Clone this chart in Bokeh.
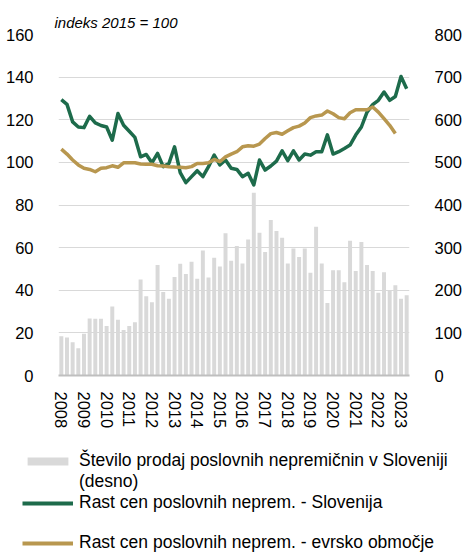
import numpy as np
from bokeh.plotting import figure
from bokeh.models import Range1d, LinearAxis, FixedTicker, Legend, LegendItem
from bokeh.embed import file_html
from bokeh.resources import INLINE

# ---------------- data ----------------
years = [str(y) for y in range(2008, 2024)]
quarters = [f"{y} Q{q}" for y in range(2008, 2024) for q in range(1, 5)][:62]

# number of commercial real-estate sales in Slovenia (right axis)
sales = [92, 89, 78, 64, 98, 134, 133, 133, 116, 162, 131, 107, 116, 125, 225, 186,
         172, 259, 196, 180, 231, 262, 238, 267, 227, 293, 230, 276, 256, 334, 269, 304,
         263, 319, 429, 335, 290, 365, 339, 323, 263, 298, 278, 298, 241, 349, 263, 170,
         247, 247, 219, 316, 245, 313, 259, 245, 194, 242, 200, 212, 180, 188]

# commercial property price index, Slovenia (2015 = 100)
price_si = [129.4, 127.2, 119.0, 116.6, 116.3, 121.6, 118.5, 117.3, 116.6, 110.4, 122.9, 117.4,
            114.6, 111.7, 102.6, 103.7, 99.8, 104.2, 98.0, 99.5, 107.3, 95.2, 90.5, 93.3,
            96.1, 93.3, 98.0, 103.4, 98.8, 101.1, 97.2, 96.7, 93.3, 94.9, 89.4, 101.1,
            96.4, 98.3, 100.6, 105.4, 100.8, 105.4, 101.1, 103.9, 103.4, 105.0, 105.0, 112.9,
            103.9, 105.0, 106.5, 108.1, 112.8, 116.6, 123.6, 127.1, 129.1, 133.0, 129.1, 130.9,
            140.3, 134.5]

# commercial property price index, euro area (2015 = 100)
price_ea = [106.2, 103.9, 101.1, 98.8, 97.2, 96.7, 95.6, 97.2, 97.5, 98.4, 97.7, 99.8,
            99.8, 99.8, 99.2, 99.1, 99.1, 98.4, 98.3, 98.0, 97.8, 97.7, 97.5, 98.0,
            99.5, 99.5, 99.8, 101.4, 100.3, 102.6, 103.9, 105.0, 107.3, 107.8, 107.6, 108.6,
            111.2, 113.5, 114.0, 113.2, 114.8, 116.3, 117.0, 118.5, 121.0, 121.8, 122.2, 124.1,
            122.8, 121.0, 120.5, 123.3, 124.7, 124.7, 124.7, 126.0, 123.6, 120.5, 117.4, 113.5]

left_ticks = [0, 20, 40, 60, 80, 100, 120, 140, 160]
right_ticks = [0, 100, 200, 300, 400, 500, 600, 700, 800]

label_bar = "Število prodaj poslovnih nepremičnin v Sloveniji"
label_bar_2 = "(desno)"
label_si = "Rast cen poslovnih neprem. - Slovenija"
label_ea = "Rast cen poslovnih neprem. - evrsko območje"
title_text = "indeks 2015 = 100"

# ---------------- style ----------------
FONT = "Liberation Sans"
GREEN = "#1d6b4b"
GOLD = "#b8974f"
BAR = "#d9d9d9"
GRID = "#d9d9d9"
TXT = "#000000"

x = list(range(len(quarters)))

p = figure(width=465, height=440, output_backend="svg", toolbar_location=None,
           x_range=Range1d(-0.5, len(quarters) - 0.5),
           y_range=Range1d(left_ticks[0], left_ticks[-1]),
           min_border_left=58, min_border_right=50, min_border_top=34,
           min_border_bottom=65)
p.extra_y_ranges = {"right": Range1d(right_ticks[0], right_ticks[-1])}
p.outline_line_color = None

# title
p.title.text = title_text
p.title.text_font = FONT
p.title.text_font_style = "italic"
p.title.text_font_size = "15px"
p.title.text_color = TXT
p.title.align = "left"
p.title.offset = -4
p.title.standoff = 7

# renderers
r_bar = p.vbar(x=x, top=sales, width=0.7, fill_color=BAR, line_color=None,
               y_range_name="right")
r_si = p.line(x, price_si, line_color=GREEN, line_width=3.5, line_join="round")
r_ea = p.line(x[:len(price_ea)], price_ea, line_color=GOLD, line_width=3.5,
              line_join="round")

# grid
p.xgrid.grid_line_color = None
p.ygrid.grid_line_color = GRID
p.ygrid.grid_line_width = 1
p.ygrid.ticker = FixedTicker(ticks=left_ticks)

# axes
xa = p.xaxis[0]
xa.ticker = FixedTicker(ticks=[i * 4 for i in range(len(years))])
xa.major_label_overrides = {i * 4: y for i, y in enumerate(years)}
xa.major_label_orientation = "vertical"
xa.major_label_standoff = 10
xa.axis_line_color = "#bfbfbf"
xa.axis_line_width = 2

ya = p.yaxis[0]
ya.ticker = FixedTicker(ticks=left_ticks)
ya.major_label_standoff = 19

ra = LinearAxis(y_range_name="right", ticker=FixedTicker(ticks=right_ticks))
ra.major_label_standoff = 19
p.add_layout(ra, "right")

for ax in (xa, ya, ra):
    ax.major_label_text_font = FONT
    ax.major_label_text_font_size = "16.5px"
    ax.major_label_text_color = TXT
    ax.major_tick_line_color = None
    ax.minor_tick_line_color = None
for ax in (ya, ra):
    ax.axis_line_color = None

# ---------------- legend (separate panel below the chart) ----------------
p2 = figure(width=465, height=115, output_backend="svg", toolbar_location=None,
            x_range=Range1d(-0.5, len(quarters) - 0.5), y_range=Range1d(0, 1),
            x_axis_location=None, y_axis_location=None,
            min_border=0, min_border_left=0, min_border_right=0,
            min_border_top=0, min_border_bottom=0)
p2.outline_line_color = None
p2.grid.visible = False
# same series, hidden: they only lend their styles to the legend swatches
lg_bar = p2.vbar(x=x, top=sales, width=0.7, fill_color=BAR, line_color=None, visible=False)
lg_blank = p2.line(x, price_si, line_alpha=0, visible=False)
lg_si = p2.line(x, price_si, line_color=GREEN, line_width=4, visible=False)
lg_ea = p2.line(x[:len(price_ea)], price_ea, line_color=GOLD, line_width=4, visible=False)


def style_legend(lg):
    lg.border_line_color = None
    lg.background_fill_alpha = 0
    lg.inactive_fill_alpha = 0
    lg.padding = 0
    lg.margin = 0
    lg.spacing = 0
    lg.glyph_width = 51
    lg.glyph_height = 10
    lg.label_standoff = 6
    lg.label_text_font = FONT
    lg.label_text_font_size = "17.5px"
    lg.label_text_color = TXT
    lg.click_policy = "none"


leg_a = Legend(items=[LegendItem(label=label_bar, renderers=[lg_bar]),
                      LegendItem(label=label_bar_2, renderers=[lg_blank]),
                      LegendItem(label=label_si, renderers=[lg_si])],
               location=(22, 42))
leg_b = Legend(items=[LegendItem(label=label_ea, renderers=[lg_ea])],
               location=(22, 2))
style_legend(leg_a)
style_legend(leg_b)
p2.add_layout(leg_a)
p2.add_layout(leg_b)

open("out.html", "w").write(file_html([p, p2], INLINE))
